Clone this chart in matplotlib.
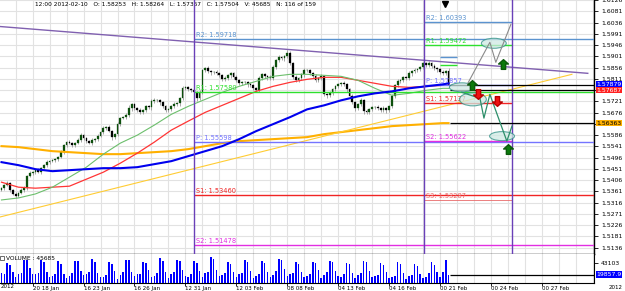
import matplotlib
matplotlib.use('Agg')
import matplotlib.pyplot as plt
from matplotlib.patches import Ellipse
from matplotlib.path import Path

# closes of the 4h bars (159 bars)
closes = [1.5374,1.5386,1.5394,1.5366,1.5351,1.5343,1.5355,1.5366,1.5374,1.5422,
          1.5434,1.5438,1.5446,1.5438,1.5454,1.5466,1.5478,1.5482,1.5486,1.5490,
          1.5498,1.5518,1.5546,1.5558,1.5554,1.5546,1.5554,1.5566,1.5586,1.5574,
          1.5562,1.5554,1.5566,1.5570,1.5582,1.5598,1.5614,1.5618,1.5602,1.5578,
          1.5590,1.5630,1.5654,1.5658,1.5665,1.5693,1.5709,1.5693,1.5685,1.5677,
          1.5685,1.5701,1.5697,1.5721,1.5725,1.5725,1.5717,1.5701,1.5685,1.5689,
          1.5701,1.5709,1.5713,1.5733,1.5773,1.5777,1.5769,1.5765,1.5757,1.5733,
          1.5757,1.5845,1.5853,1.5841,1.5837,1.5837,1.5833,1.5825,1.5809,1.5813,
          1.5825,1.5833,1.5817,1.5805,1.5793,1.5797,1.5797,1.5789,1.5785,1.5773,
          1.5765,1.5813,1.5829,1.5821,1.5817,1.5813,1.5857,1.5885,1.5897,1.5893,
          1.5901,1.5913,1.5873,1.5817,1.5805,1.5813,1.5829,1.5845,1.5845,1.5833,
          1.5821,1.5805,1.5813,1.5823,1.5750,1.5745,1.5753,1.5769,1.5781,1.5789,
          1.5793,1.5789,1.5769,1.5741,1.5717,1.5693,1.5709,1.5725,1.5681,1.5677,
          1.5689,1.5697,1.5697,1.5693,1.5685,1.5693,1.5685,1.5701,1.5741,1.5785,
          1.5801,1.5805,1.5817,1.5813,1.5833,1.5841,1.5845,1.5849,1.5857,1.5873,
          1.5865,1.5873,1.5861,1.5853,1.5849,1.5837,1.5833,1.5841,1.5785]
first_open = 1.5366

# wick lengths in pips
up_wick = [6,4,8,5,3,6,4,7,9,5, 8,4,6,10,5,4,7,3,6,5, 4,8,6,5,9,4,6,8,7,5,
           6,4,9,5,7,6,8,5,10,6, 4,7,5,6,8,12,6,5,4,9, 6,5,7,8,10,6,5,4,7,6,
           5,8,6,5,9,7,6,4,8,5, 10,6,5,9,7,6,8,4,6,9, 7,5,6,8,4,7,5,6,9,5,
           6,8,5,7,6,9,10,6,8,5, 7,12,10,6,9,5,7,8,6,5, 7,9,6,8,5,4,8,6,7,5,
           6,8,7,5,9,6,5,10,6,8, 7,5,6,9,5,8,6,7,10,6, 8,5,7,6,9,5,8,6,7,5,
           6,9,7,8,5,6,8,7,12]
dn_wick = [5,7,4,8,6,9,5,4,6,7, 5,8,6,4,7,5,9,6,5,8, 6,5,7,9,4,6,8,5,7,6,
           9,5,6,8,7,5,6,9,5,10, 7,6,8,5,6,7,9,6,8,5, 7,6,5,9,6,8,10,7,6,5,
           8,6,7,9,5,6,8,7,5,12, 6,8,5,7,9,6,5,8,7,6, 5,9,6,7,8,5,6,9,7,8,
           6,5,8,7,9,6,5,7,6,8, 9,6,7,5,8,6,7,9,5,6, 8,7,6,5,9,10,7,6,8,5,
           6,7,9,8,6,10,7,6,9,8, 6,7,5,8,6,7,9,6,8,7, 5,6,8,7,5,9,6,7,8,6,
           7,5,8,6,9,7,6,8,10]

volumes = [23000,21000,44000,40000,26000,16000,
           22000,24000,50000,49000,33000,22000,
           22000,23000,49000,46000,26000,16000,
           17000,22000,47000,41000,21000,13000,
           18000,24000,48000,47000,27000,19000,
           21000,26000,52000,45000,24000,16000,
           15000,19000,46000,42000,28000,12000,
           20000,25000,49000,50000,26000,17000,
           22000,21000,45000,43000,30000,15000,
           18000,24000,53000,48000,25000,14000,
           21000,26000,50000,47000,29000,17000,
           16000,22000,48000,44000,27000,15000,
           23000,25000,55000,51000,30000,18000,
           19000,23000,46000,42000,26000,16000,
           21000,24000,49000,45000,28000,13000,
           17000,22000,47000,43000,25000,15000,
           20000,27000,51000,49000,31000,18000,
           22000,24000,45000,41000,26000,16000,
           18000,21000,46000,44000,29000,14000,
           20000,25000,48000,46000,27000,17000,
           16000,21000,44000,42000,24000,13000,
           19000,24000,47000,45000,28000,15000,
           18000,20000,43000,40000,25000,14000,
           15000,18000,45000,41000,24000,12000,
           17000,19000,42000,38000,22000,13000,
           16000,23000,46000,40000,26000,15000,
           26000,49000,19500]
vol_avg = 19857.9

# moving averages, sampled every 6 bars
ma_bars = list(range(0, 157, 6)) + [158]
ma_green = [1.5327,1.5335,1.5351,1.5378,1.5418,1.5458,1.5510,1.5554,1.5586,1.5626,
            1.5669,1.5701,1.5729,1.5757,1.5781,1.5801,1.5821,1.5829,1.5829,1.5825,
            1.5821,1.5805,1.5773,1.5745,1.5753,1.5765,1.5773,1.5773]
ma_red = [1.5398,1.5378,1.5374,1.5378,1.5382,1.5410,1.5438,1.5474,1.5514,1.5558,
          1.5606,1.5642,1.5677,1.5705,1.5733,1.5761,1.5781,1.5797,1.5809,1.5817,
          1.5817,1.5805,1.5793,1.5781,1.5777,1.5781,1.5785,1.5785]
ma_blue = [1.5478,1.5466,1.5450,1.5442,1.5446,1.5450,1.5454,1.5454,1.5458,1.5470,
           1.5482,1.5502,1.5522,1.5542,1.5570,1.5602,1.5630,1.5658,1.5689,1.5705,
           1.5725,1.5741,1.5753,1.5761,1.5773,1.5781,1.5789,1.5793]
ma_gold = [1.5542,1.5538,1.5530,1.5522,1.5518,1.5514,1.5510,1.5510,1.5514,1.5518,
           1.5522,1.5530,1.5542,1.5554,1.5562,1.5566,1.5570,1.5574,1.5578,1.5590,
           1.5598,1.5606,1.5614,1.5622,1.5626,1.5630,1.5634,1.5634]

# trend lines (bar, price)
purple_line = [(-0.5, 1.6020), (207.2, 1.5833)]
yellow_line = [(-0.5, 1.5259), (201.6, 1.5829)]

# weekly pivots
week_bars = [68.0, 149.3, 180.4]
piv1_names = ['R2', 'R1', 'P', 'S1', 'S2']
piv1_vals = [1.59718, 1.57580, 1.55598, 1.53460, 1.51478]
piv2_names = ['R2', 'R1', 'P', 'S1', 'S2', 'S3']
piv2_vals = [1.60393, 1.59472, 1.57857, 1.57137, 1.55622, 1.53287]
piv_colors = {'R2': '#5b93cf', 'R1': '#2ee02e', 'P': '#7474ff', 'S1': '#f02424',
              'S2': '#e22ee2', 'S3': '#e86a6a'}

# projection sketch
up_path_bars = [164.8, 172.6, 174.7, 180.0]
up_path_prices = [1.5793, 1.5957, 1.5877, 1.6028]
dn_path_bars = [162.7, 169.1, 170.5, 172.6, 178.6, 180.4]
dn_path_prices = [1.5757, 1.5733, 1.5654, 1.5749, 1.5562, 1.5622]
ellipses = [(174.0, 1.5953, 8.8, 0.0040), (162.7, 1.5777, 8.8, 0.0036),
            (166.6, 1.5729, 9.5, 0.0052), (176.9, 1.5582, 8.8, 0.0036)]
green_arrows = [(166.3, 1.5785), (177.2, 1.5870), (179.0, 1.5530)]
red_arrows = [(168.4, 1.5750), (175.1, 1.5722)]

price_ticks = ['1.5136','1.5181','1.5226','1.5271','1.5316','1.5361','1.5406','1.5451',
               '1.5496','1.5541','1.5586','1.5631','1.5676','1.5721','1.5766','1.5811',
               '1.5856','1.5901','1.5946','1.5991','1.6036','1.6081','1.6126']
hidden_ticks = ['1.5631', '1.5766']   # covered by the value boxes
date_bars = [11, 29, 47, 65, 83, 101, 119, 137, 155, 173, 191]
date_labels = ['20 18 Jan', '16 23 Jan', '16 26 Jan', '12 31 Jan', '12 03 Feb', '08 08 Feb',
               '04 13 Feb', '04 16 Feb', '00 21 Feb', '00 24 Feb', '00 27 Feb']

XMIN, XMAX = -0.53, 209.4
grid_c = '#e2e2e2'
fs = 4.4

fig = plt.figure(figsize=(6.25, 2.91), dpi=100)
ax = fig.add_axes([0, 1 - 254/291, 0.9504, 254/291])
axv = fig.add_axes([0, 1 - 283/291, 0.9504, 29/291], sharex=ax)

ax.set_xlim(XMIN, XMAX)
ax.set_ylim(1.5111, 1.6124)

# grid
for g in range(5, 210, 6):
    ax.axvline(g, color=grid_c, lw=0.8, zorder=0)
    axv.axvline(g, color=grid_c, lw=0.8, zorder=0)
for t in price_ticks:
    ax.axhline(float(t), color=grid_c, lw=0.8, zorder=0)

# candles
opens = [first_open] + closes[:-1]
for i, (o, c) in enumerate(zip(opens, closes)):
    hi = max(o, c) + up_wick[i] * 0.0001
    lo = min(o, c) - dn_wick[i] * 0.0001
    ax.vlines(i, lo, hi, color='#9a9a9a', lw=0.6, zorder=3)
    col = '#0c4f0c' if c >= o else '#000000'
    h = abs(c - o) if abs(c - o) > 0.0002 else 0.0002
    ax.bar(i, h, bottom=min(o, c), width=0.62, color=col, edgecolor=col, lw=0.2, zorder=4)

# moving averages
ax.plot(ma_bars, ma_gold, color='#ffb000', lw=1.5, zorder=5)
ax.plot(ma_bars, ma_blue, color='#0000ee', lw=1.5, zorder=6)
ax.plot(ma_bars, ma_red, color='#ff3535', lw=0.9, zorder=5)
ax.plot(ma_bars, ma_green, color='#6cbf6c', lw=0.8, zorder=5)

# trend lines
ax.plot([p[0] for p in purple_line], [p[1] for p in purple_line], color='#8060b0', lw=1.0, zorder=5)
ax.plot([p[0] for p in yellow_line], [p[1] for p in yellow_line], color='#ffcc33', lw=0.8, zorder=5)

# week separators
for wb in week_bars:
    ax.axvline(wb, color='#6a40b8', lw=1.0, zorder=6)

# pivots week 1 (extend to right edge)
for n, v in zip(piv1_names, piv1_vals):
    ax.hlines(v, week_bars[0], XMAX, color=piv_colors[n], lw=1.0, zorder=5)
    ax.text(week_bars[0] + 0.8, v + 0.0003, '%s: %.5f' % (n, v), color=piv_colors[n],
            fontsize=4.8, va='bottom', ha='left', zorder=7)
# pivots week 2
for n, v in zip(piv2_names, piv2_vals):
    lw = 0.6 if n == 'S3' else 1.0
    ax.hlines(v, week_bars[1], week_bars[2], color=piv_colors[n], lw=lw, zorder=5)
    ax.text(week_bars[1] + 0.8, v + 0.0003, '%s: %.5f' % (n, v), color=piv_colors[n],
            fontsize=4.8, va='bottom', ha='left', zorder=7)

# small level marks
ax.hlines(1.5897, 155, 161, color='#5b93cf', lw=1.0, zorder=5)
ax.hlines(1.5865, 155, 161, color='#2ee02e', lw=1.0, zorder=5)

# right side current-value lines
ax.hlines([1.5788, 1.5768, 1.5634], 158.5, XMAX, color='#000000', lw=0.9, zorder=6)

# projection sketch
for (bx, py, w, h) in ellipses:
    ax.add_patch(Ellipse((bx, py), w, h, facecolor='#cfe9e3', edgecolor='#2d8f84',
                         alpha=0.75, lw=0.8, zorder=8))
ax.plot(up_path_bars, up_path_prices, color='#8a8a8a', lw=0.8, zorder=9)
ax.plot(dn_path_bars, dn_path_prices, color='#2d8f6a', lw=0.9, zorder=9)

arrow_up = Path([(-0.22, -0.5), (0.22, -0.5), (0.22, 0.05), (0.5, 0.05), (0, 0.5),
                 (-0.5, 0.05), (-0.22, 0.05), (-0.22, -0.5)], closed=True)
arrow_dn = Path([(x, -y) for x, y in arrow_up.vertices], closed=True)
ax.plot([a[0] for a in green_arrows], [a[1] for a in green_arrows], ls='none', marker=arrow_up,
        ms=7, color='#0b7a0b', mec='#0b5a0b', zorder=10)
ax.plot([a[0] for a in red_arrows], [a[1] for a in red_arrows], ls='none', marker=arrow_dn,
        ms=7, color='#ee1111', mec='#bb0000', zorder=10)
ax.plot([156.7], [1.6112], ls='none', marker='v', ms=4, color='black', zorder=10)

# price axis
ax.yaxis.tick_right()
ax.set_yticks([float(t) for t in price_ticks])
ax.set_yticklabels(['' if t in hidden_ticks else t for t in price_ticks], fontsize=fs)
ax.tick_params(axis='y', length=3, width=0.6, pad=2)
ax.tick_params(axis='x', bottom=False, labelbottom=False)
for s in ['left', 'top']:
    ax.spines[s].set_visible(False)
ax.spines['right'].set_linewidth(1.0)
ax.spines['bottom'].set_linewidth(1.0)

def value_box(axis, y, text, fc, tc='white'):
    axis.text(1.004, y, text, transform=axis.get_yaxis_transform(), fontsize=fs,
              color=tc, va='center', ha='left',
              bbox=dict(boxstyle='square,pad=0.12', fc=fc, ec='none'), zorder=20, clip_on=False)

value_box(ax, 1.5790, '1.57879', '#0000ff')
value_box(ax, 1.5766, '1.57687', '#ff2020')
value_box(ax, 1.5634, '1.56363', '#ffb000', 'black')

ax.text(12, 1.6107, '12:00 2012-02-10   O: 1.58253   H: 1.58264   L: 1.57367   C: 1.57504   V: 45685   N: 116 of 159',
        fontsize=4.2, color='black', va='center', ha='left')

# volume panel
axv.bar(range(len(volumes)), volumes, width=0.55, color='#0000ff', zorder=3)
axv.hlines(vol_avg, 158.5, XMAX, color='black', lw=0.9, zorder=4)
axv.set_ylim(2900, 62000)
axv.yaxis.tick_right()
axv.set_yticks([43103])
axv.set_yticklabels(['43103'], fontsize=fs)
axv.tick_params(axis='y', length=3, width=0.6, pad=2)
value_box(axv, vol_avg, '19857.9', '#0000ff')
axv.text(1.5, 53000, 'VOLUME : 45685', fontsize=4.2, va='center', ha='left', zorder=6)
axv.plot([0.3], [53000], ls='none', marker='s', ms=3.5, mfc='white', mec='#555555', mew=0.6, zorder=6)
for s in ['left', 'top']:
    axv.spines[s].set_visible(False)

axv.set_xticks(date_bars)
axv.set_xticklabels(date_labels, fontsize=4.0, ha='left')
axv.tick_params(axis='x', length=2, width=0.6, pad=0.3)
axv.text(-0.3, -0.04, '2012', transform=axv.get_xaxis_transform(), fontsize=4.0, va='top', ha='left')
fig.text(0.974, 0.004, '2012', fontsize=4.0, va='bottom', ha='left')

fig.savefig('out.png', dpi=100)
